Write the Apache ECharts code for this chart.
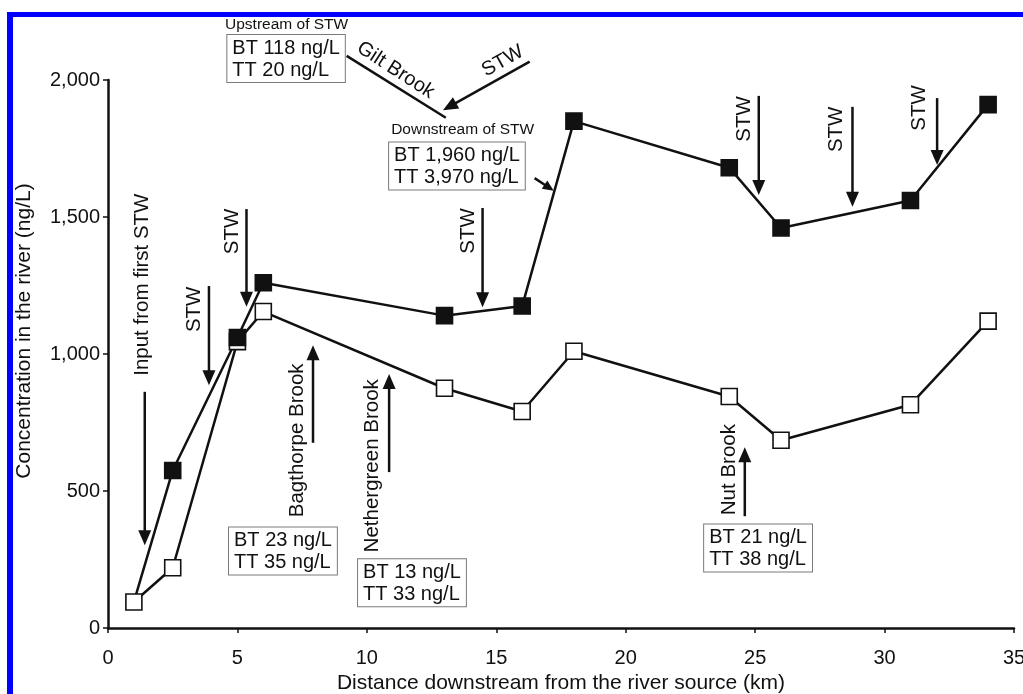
<!DOCTYPE html>
<html>
<head>
<meta charset="utf-8">
<script src="https://cdn.jsdelivr.net/npm/echarts@6/dist/echarts.min.js"></script>
<style>
html,body{margin:0;padding:0;background:#fff;}
#c{width:1023px;height:694px;}
</style>
</head>
<body>
<div id="c"></div>
<script>
// ---------- data ----------
const distanceKm   = [1, 2.5, 5, 6, 13, 16, 18, 24, 26, 31, 34];
const filledValues = [95, 575, 1060, 1260, 1140, 1175, 1850, 1680, 1460, 1560, 1910];
const openValues   = [95, 220, 1045, 1155, 875, 790, 1010, 845, 685, 815, 1120];
const xTicks = [0, 5, 10, 15, 20, 25, 30, 35];
const yTicks = [0, 500, 1000, 1500, 2000];
const xTitle = 'Distance downstream from the river source (km)';
const yTitle = 'Concentration in the river (ng/L)';

// ---------- annotation anchors (data units: [km, ng/L]) ----------
const arrowStarts = [[1.42,862],[3.90,1248],[5.35,1529],[7.92,676],[10.86,569],[14.47,1533],[16.48,1642],[16.29,2067],[25.14,1942],[28.76,1902],[32.03,1934],[24.60,408]];
const arrowEnds   = [[1.42,302],[3.90,886],[5.35,1172],[7.92,1032],[10.86,927],[14.47,1171],[17.22,1596],[12.94,1890],[25.14,1580],[28.76,1537],[32.03,1690],[24.60,660]];
const giltLine = [[9.22,2088],[13.05,1862]];
const vLabels = ['Input from first STW','STW','STW','Bagthorpe Brook','Nethergreen Brook','STW','STW','STW','STW','Nut Brook'];
const vLabelAt = [[1.34,1253],[3.35,1163],[4.80,1447],[7.33,685],[10.23,592],[13.91,1449],[24.60,1858],[28.15,1820],[31.36,1898],[24.02,578]];
const boxTexts = ['BT 118 ng/L\nTT 20 ng/L','BT 1,960 ng/L\nTT 3,970 ng/L','BT 23 ng/L\nTT 35 ng/L','BT 13 ng/L\nTT 33 ng/L','BT 21 ng/L\nTT 38 ng/L'];
const boxTopLeft = [[4.61,2164],[10.86,1772],[4.675,367],[9.66,251],[23.03,378]];
const boxTitles = ['Upstream of STW','Downstream of STW'];
const boxTitleAt = [[6.90,2200],[13.70,1817]];

const FONT = '"Liberation Sans", Arial, Helvetica, sans-serif';
const INK = '#111111';

const chart = echarts.init(document.getElementById('c'));
const pairs = ys => distanceKm.map((x, i) => [x, ys[i]]);

chart.setOption({
  animation: false,
  grid: {left: 108, right: 9, top: 80, bottom: 66, containLabel: false, outerBoundsMode: 'none'},
  xAxis: {
    type: 'value', min: xTicks[0], max: xTicks[xTicks.length-1], interval: 5,
    axisLine: {lineStyle: {color: INK, width: 2.5}},
    axisTick: {length: 5, lineStyle: {color: INK, width: 1.5}},
    axisLabel: {color: INK, fontSize: 20, fontFamily: FONT, margin: 20},
    splitLine: {show: false},
    name: xTitle, nameLocation: 'middle', nameGap: 43,
    nameTextStyle: {color: INK, fontSize: 21, fontFamily: FONT}
  },
  yAxis: {
    type: 'value', min: yTicks[0], max: yTicks[yTicks.length-1], interval: 500,
    axisLine: {show: true, lineStyle: {color: INK, width: 2.5}},
    axisTick: {show: true, length: 5, lineStyle: {color: INK, width: 1.5}},
    axisLabel: {color: INK, fontSize: 20, fontFamily: FONT, margin: 8,
      formatter: v => v.toLocaleString('en-US')},
    splitLine: {show: false}
  },
  series: [
    {type: 'line', data: pairs(openValues), showSymbol: false, silent: true, z: 2,
     lineStyle: {color: INK, width: 2.5, opacity: 1}},
    {type: 'line', data: pairs(filledValues), showSymbol: false, silent: true, z: 2,
     lineStyle: {color: INK, width: 2.5, opacity: 1}},
    {type: 'scatter', data: pairs(openValues), symbol: 'rect', symbolSize: 16, z: 3,
     itemStyle: {color: '#fff', borderColor: INK, borderWidth: 1.6, opacity: 1}},
    {type: 'scatter', data: pairs(filledValues).slice(1), symbol: 'rect', symbolSize: 16, z: 4,
     itemStyle: {color: INK, borderColor: INK, borderWidth: 1.6, opacity: 1}}
  ]
});

const P = pt => chart.convertToPixel({gridIndex: 0}, pt);
const els = [];

// blue frame (left and top)
els.push({type: 'rect', shape: {x: 7, y: 12, width: 6, height: 700}, style: {fill: '#0000ff'}, z: 10});
els.push({type: 'rect', shape: {x: 7, y: 12, width: 1030, height: 5}, style: {fill: '#0000ff'}, z: 10});

// y axis title
els.push({type: 'text', x: 24, y: 331, rotation: Math.PI / 2,
  style: {text: yTitle, fontSize: 21, fontFamily: FONT, fill: INK, align: 'center', verticalAlign: 'middle'}});

function addArrow(a, b, headLen, headHalf) {
  const p0 = P(a), p1 = P(b);
  const dx = p1[0] - p0[0], dy = p1[1] - p0[1];
  const L = Math.hypot(dx, dy), ux = dx / L, uy = dy / L;
  const bx = p1[0] - ux * headLen, by = p1[1] - uy * headLen;
  const nx = -uy, ny = ux;
  els.push({type: 'line', shape: {x1: p0[0], y1: p0[1], x2: bx + ux, y2: by + uy},
    style: {stroke: INK, lineWidth: 2.5}});
  els.push({type: 'polygon', shape: {points: [[p1[0], p1[1]], [bx + nx * headHalf, by + ny * headHalf], [bx - nx * headHalf, by - ny * headHalf]]},
    style: {fill: INK}});
}
arrowStarts.forEach((s, i) => {
  const small = i === 6;
  addArrow(s, arrowEnds[i], small ? 11 : 15, small ? 5 : 6.5);
});

// Gilt Brook line
{
  const a = P(giltLine[0]), b = P(giltLine[1]);
  els.push({type: 'line', shape: {x1: a[0], y1: a[1], x2: b[0], y2: b[1]}, style: {stroke: INK, lineWidth: 2.5}});
}

// vertical labels
vLabels.forEach((t, i) => {
  const p = P(vLabelAt[i]);
  els.push({type: 'text', x: p[0], y: p[1], rotation: Math.PI / 2,
    style: {text: t, fontSize: 20.5, fontFamily: FONT, fill: INK, align: 'center', verticalAlign: 'middle'}});
});

// diagonal labels
{
  const g = P([11.11, 2036]);
  els.push({type: 'text', x: g[0], y: g[1], rotation: -33 * Math.PI / 180,
    style: {text: 'Gilt Brook', fontSize: 20, fontFamily: FONT, fill: INK, align: 'center', verticalAlign: 'middle'}});
  const s = P([15.25, 2069]);
  els.push({type: 'text', x: s[0], y: s[1], rotation: 29 * Math.PI / 180,
    style: {text: 'STW', fontSize: 20, fontFamily: FONT, fill: INK, align: 'center', verticalAlign: 'middle'}});
}

// boxes
boxTexts.forEach((t, i) => {
  const p = P(boxTopLeft[i]);
  els.push({type: 'text', x: p[0], y: p[1],
    style: {text: t, fontSize: 20, fontFamily: FONT, fill: INK, align: 'left', verticalAlign: 'top',
      lineHeight: 22, padding: [2, 5, 1, 5], backgroundColor: '#fff', borderColor: '#7a7a7a', borderWidth: 1}});
});
boxTitles.forEach((t, i) => {
  const p = P(boxTitleAt[i]);
  els.push({type: 'text', x: p[0], y: p[1],
    style: {text: t, fontSize: 15.5, fontFamily: FONT, fill: INK, align: 'center', verticalAlign: 'middle'}});
});

chart.setOption({graphic: {elements: els}});
</script>
</body>
</html>
